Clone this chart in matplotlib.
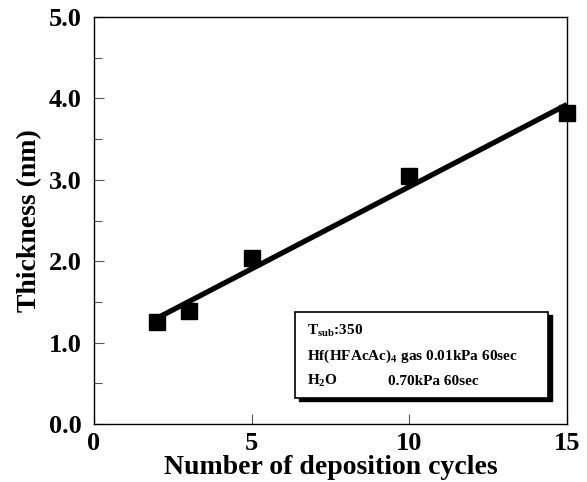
import numpy as np
import matplotlib
matplotlib.use("Agg")
import matplotlib.pyplot as plt
from matplotlib.patches import Rectangle
from matplotlib.ticker import MultipleLocator

cycles = [2, 3, 5, 10, 15]
thickness = [1.25, 1.39, 2.04, 3.05, 3.82]
xticks = [0, 5, 10, 15]
yticks = [0.0, 1.0, 2.0, 3.0, 4.0, 5.0]
ytick_labels = ["0.0", "1.0", "2.0", "3.0", "4.0", "5.0"]

plt.rcParams['font.family'] = ['Liberation Serif', 'DejaVu Serif']
plt.rcParams['font.weight'] = 'bold'
plt.rcParams['mathtext.fontset'] = 'custom'
plt.rcParams['mathtext.rm'] = 'Liberation Serif:bold'
plt.rcParams['mathtext.bf'] = 'Liberation Serif:bold'
plt.rcParams['mathtext.it'] = 'Liberation Serif:bold'

W, H = 587, 482
fig = plt.figure(figsize=(W/100, H/100), dpi=100)
ax = fig.add_axes([94/W, 1-424/H, (567-94)/W, (424-17)/H])

# fitted line
coef = np.polyfit(cycles, thickness, 1)
xl = np.array([min(cycles), max(cycles)])
ax.plot(xl, np.polyval(coef, xl), color='black', lw=3.8, solid_capstyle='butt', zorder=3)
ax.plot(cycles, thickness, 's', color='black', ms=12, zorder=4, clip_on=False)

ax.set_xlim(0, 15)
ax.set_ylim(0, 5)
ax.set_xticks(xticks)
ax.set_xticklabels([str(t) for t in xticks])
ax.set_yticks(yticks)
ax.set_yticklabels(ytick_labels)
ax.yaxis.set_minor_locator(MultipleLocator(0.5))
ax.tick_params(axis='both', which='both', direction='in', top=False, right=False,
               width=0.8, color='#555555')
ax.tick_params(axis='y', which='major', length=7, pad=9, labelsize=19)
ax.tick_params(axis='y', which='minor', length=6)
ax.tick_params(axis='x', which='major', length=7, pad=6, labelsize=19)
for lab in ax.get_xticklabels() + ax.get_yticklabels():
    lab.set_fontweight('bold')
for s in ax.spines.values():
    s.set_linewidth(1.0)

ax.set_xlabel('Number of deposition cycles', fontsize=20, fontweight='bold', labelpad=0)
ax.set_ylabel('Thickness (nm)', fontsize=20, fontweight='bold', labelpad=5)

# annotation box with shadow
def fx(px):
    return px / W
def fy(py):
    return 1 - py / H

bl, br, bt, bb = 295, 548, 312, 398
fig.patches.append(Rectangle((fx(bl+4), fy(bb+3)), fx(br-bl), (bb-bt)/H,
                             transform=fig.transFigure, facecolor='black',
                             edgecolor='black', zorder=5))
fig.patches.append(Rectangle((fx(bl), fy(bb)), fx(br-bl), (bb-bt)/H,
                             transform=fig.transFigure, facecolor='white',
                             edgecolor='black', lw=1.2, zorder=6))

fs = 11
fig.text(fx(307), fy(335), r'$\mathbf{T_{sub}}$:350', fontsize=fs, fontweight='bold',
         va='baseline', zorder=7)
fig.text(fx(307), fy(360), r'Hf(HFAcAc)$_{\mathbf{4}}$ gas 0.01kPa 60sec', fontsize=fs,
         fontweight='bold', va='baseline', zorder=7)
fig.text(fx(307), fy(385), r'H$_{\mathbf{2}}$O', fontsize=fs, fontweight='bold',
         va='baseline', zorder=7)
fig.text(fx(388), fy(385), '0.70kPa 60sec', fontsize=fs, fontweight='bold',
         va='baseline', zorder=7)

fig.savefig('out.png', dpi=100)
